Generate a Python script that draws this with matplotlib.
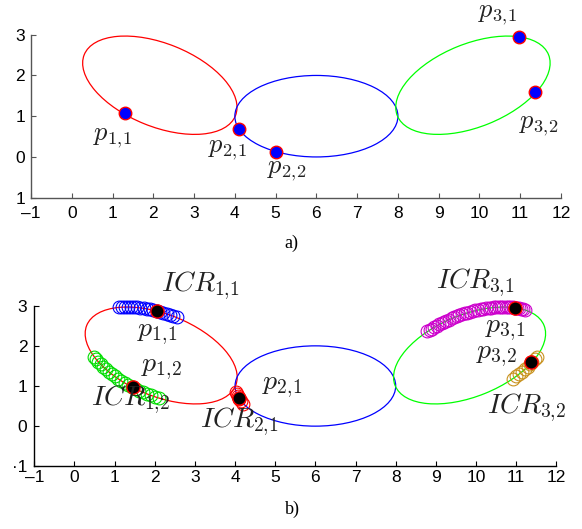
import matplotlib
matplotlib.use('Agg')
import matplotlib.pyplot as plt
from matplotlib.patches import Ellipse

plt.rcParams['mathtext.fontset'] = 'cm'
plt.rcParams['font.family'] = ['Liberation Sans', 'DejaVu Sans']

# ---------------- data ----------------
x_ticks = list(range(-1, 13))
x_labels = ['\u20131'] + [str(v) for v in range(0, 13)]
y_ticks = [-1, 0, 1, 2, 3]
y_labels_a = ['1', '0', '1', '2', '3']
y_labels_b = ['·1', '0', '1', '2', '3']

ell_cx = [2.16, 6.0, 9.84]
ell_cy = [1.76, 1.0, 1.76]
ell_w = [4.0, 4.0, 4.0]
ell_h = [2.04, 2.0, 2.04]
ell_ang = [-22, 0, 22]
ell_colors = ['#ff0000', '#0000ff', '#00ff00']

# panel a) points
pa_x = [1.30, 4.09, 5.00, 10.96, 11.37]
pa_y = [1.07, 0.69, 0.13, 2.94, 1.59]
pa_labels = [r'$p_{1,\!1}$', r'$p_{2,\!1}$', r'$p_{2,\!2}$', r'$p_{3,\!1}$', r'$p_{3,\!2}$']
pa_lab_x = [0.99, 3.83, 5.28, 10.43, 11.46]
pa_lab_y = [0.47, 0.17, -0.34, 3.48, 0.76]

# panel b) ICR trails
trail11_x = [1.116, 1.186, 1.258, 1.331, 1.407, 1.484, 1.562, 1.641, 1.721, 1.802,
             1.884, 1.966, 2.049, 2.131, 2.214, 2.297, 2.379, 2.462, 2.543]
trail11_y = [2.964, 2.969, 2.972, 2.972, 2.970, 2.966, 2.959, 2.950, 2.939, 2.926,
             2.910, 2.892, 2.872, 2.850, 2.826, 2.800, 2.772, 2.742, 2.710]

trail12_x = [0.489, 0.540, 0.593, 0.651, 0.714, 0.780, 0.850, 0.923, 1.001, 1.081, 1.163,
             1.251, 1.339, 1.429, 1.523, 1.617, 1.713, 1.809, 1.908, 2.007, 2.106]
trail12_y = [1.730, 1.667, 1.605, 1.541, 1.480, 1.419, 1.359, 1.299, 1.241, 1.184, 1.130,
             1.077, 1.027, 0.977, 0.930, 0.885, 0.843, 0.803, 0.765, 0.730, 0.700]

trail21_x = [4.02, 4.05, 4.08, 4.11, 4.15, 4.19]
trail21_y = [0.86, 0.80, 0.74, 0.68, 0.62, 0.56]

trail31_x = [8.789, 8.844, 8.901, 8.960, 9.019, 9.079, 9.141, 9.203, 9.265, 9.328,
             9.393, 9.458, 9.523, 9.588, 9.654, 9.720, 9.786, 9.852, 9.919, 9.985,
             10.051, 10.117, 10.182, 10.247, 10.312, 10.376, 10.439, 10.501, 10.563, 10.624,
             10.683, 10.743, 10.801, 10.857, 10.912, 10.967, 11.019, 11.071, 11.120, 11.168,
             11.214]
trail31_y = [2.360, 2.396, 2.432, 2.466, 2.500, 2.533, 2.565, 2.596, 2.627, 2.655,
             2.683, 2.711, 2.736, 2.760, 2.784, 2.806, 2.826, 2.846, 2.864, 2.881,
             2.897, 2.910, 2.923, 2.935, 2.944, 2.952, 2.959, 2.964, 2.969, 2.971,
             2.972, 2.972, 2.970, 2.967, 2.962, 2.955, 2.948, 2.938, 2.929, 2.916,
             2.903]

trail32_x = [11.511, 11.460, 11.407, 11.349, 11.286, 11.220, 11.150, 11.077, 10.999, 10.919]
trail32_y = [1.730, 1.667, 1.605, 1.541, 1.480, 1.419, 1.359, 1.299, 1.241, 1.184]

trail_colors = ['#0000ff', '#00dd00', '#ff0000', '#cc00cc', '#c8921e']

pb_x = [2.05, 1.46, 4.09, 10.97, 11.36]
pb_y = [2.86, 0.97, 0.70, 2.94, 1.60]

pb_labels = [r'$ICR_{1,\!1}$', r'$p_{1,\!1}$', r'$p_{1,\!2}$', r'$ICR_{1,\!2}$', r'$ICR_{2,\!1}$',
             r'$p_{2,\!1}$', r'$ICR_{3,\!1}$', r'$p_{3,\!1}$', r'$p_{3,\!2}$', r'$ICR_{3,\!2}$']
pb_lab_x = [3.15, 2.06, 2.18, 1.41, 4.10, 5.17, 9.98, 10.72, 10.52, 11.27]
pb_lab_y = [3.50, 2.29, 1.42, 0.65, 0.10, 0.97, 3.58, 2.39, 1.74, 0.45]

# ---------------- figure ----------------
fig = plt.figure(figsize=(5.82, 5.29), dpi=100)
ax_a = fig.add_axes([31 / 582, 1 - 197.7 / 529, 530 / 582, 163 / 529])
ax_b = fig.add_axes([34.3 / 582, 1 - 466.3 / 529, 522 / 582, 160.6 / 529])


def style_axes(ax, ylabels, spine_color, xpad, ypad):
    ax.set_xlim(-1, 12)
    ax.set_ylim(-1, 3)
    ax.set_xticks(x_ticks)
    ax.set_xticklabels(x_labels)
    ax.set_yticks(y_ticks)
    ax.set_yticklabels(ylabels)
    for s in ['top', 'right']:
        ax.spines[s].set_visible(False)
    for s in ['left', 'bottom']:
        ax.spines[s].set_color(spine_color)
        ax.spines[s].set_linewidth(1.0)
    ax.tick_params(axis='both', direction='in', length=3.5, width=0.8,
                   colors=spine_color, labelcolor='black', labelsize=12.5)
    ax.tick_params(axis='x', pad=xpad)
    ax.tick_params(axis='y', pad=ypad)
    ax.set_facecolor('none')


def draw_ellipses(ax):
    for cx, cy, w, h, a, c in zip(ell_cx, ell_cy, ell_w, ell_h, ell_ang, ell_colors):
        ax.add_patch(Ellipse((cx, cy), w, h, angle=a, fill=False, edgecolor=c,
                             linewidth=0.9, zorder=2))


style_axes(ax_a, y_labels_a, '#555555', 6.0, 4.3)
draw_ellipses(ax_a)
ax_a.plot(pa_x, pa_y, 'o', markersize=9, markerfacecolor='#0000ff',
          markeredgecolor='#ff0000', markeredgewidth=1.0, zorder=4, clip_on=False)
for t, x, y in zip(pa_labels, pa_lab_x, pa_lab_y):
    ax_a.text(x, y, t, fontsize=19, ha='center', va='center', color='#222222', clip_on=False)

style_axes(ax_b, y_labels_b, 'black', 3, 5)
draw_ellipses(ax_b)
trails = [(trail11_x, trail11_y), (trail12_x, trail12_y), (trail21_x, trail21_y),
          (trail31_x, trail31_y), (trail32_x, trail32_y)]
for (tx, ty), c in zip(trails, trail_colors):
    ax_b.plot(tx, ty, 'o', markersize=9.2, markerfacecolor='none', markeredgecolor=c,
              markeredgewidth=0.8, zorder=3, clip_on=False)
ax_b.plot(pb_x, pb_y, 'o', markersize=9.5, markerfacecolor='black',
          markeredgecolor='#ff0000', markeredgewidth=1.0, zorder=5, clip_on=False)
for t, x, y in zip(pb_labels, pb_lab_x, pb_lab_y):
    ax_b.text(x, y, t, fontsize=20, ha='center', va='center', color='#222222',
              clip_on=False, zorder=6)

fig.text(291 / 582, 1 - 243 / 529, 'a)', fontsize=13, family='Liberation Serif',
         ha='center', va='center')
fig.text(292 / 582, 1 - 509 / 529, 'b)', fontsize=13, family='Liberation Serif',
         ha='center', va='center')

fig.savefig('out.png', dpi=100)
